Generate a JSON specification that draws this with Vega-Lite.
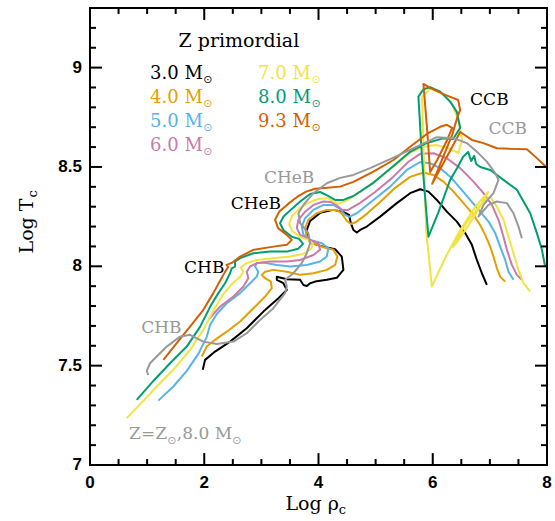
{
"$schema": "https://vega.github.io/schema/vega-lite/v6.json",
"width": 457, "height": 457,
"autosize": {"type": "none"},
"padding": {"left": 90, "top": 8, "right": 8, "bottom": 56},
"background": "white",
"config": {
 "view": {"stroke": "black", "strokeWidth": 2}
},
"datasets": {
"xmaj": [{"v":0},{"v":2},{"v":4},{"v":6},{"v":8}],
"xmin": [{"v":0.5},{"v":1},{"v":1.5},{"v":2.5},{"v":3},{"v":3.5},{"v":4.5},{"v":5},{"v":5.5},{"v":6.5},{"v":7},{"v":7.5}],
"ymaj": [{"v":7},{"v":7.5},{"v":8},{"v":8.5},{"v":9}],
"ymin": [{"v":7.1},{"v":7.2},{"v":7.3},{"v":7.4},{"v":7.6},{"v":7.7},{"v":7.8},{"v":7.9},{"v":8.1},{"v":8.2},{"v":8.3},{"v":8.4},{"v":8.6},{"v":8.7},{"v":8.8},{"v":8.9},{"v":9.1},{"v":9.2}],
"curves": [
{"s":"3.0","i":0,"x":1.974,"y":7.479},{"s":"3.0","i":1,"x":2.014,"y":7.529},{"s":"3.0","i":2,"x":2.189,"y":7.571},{"s":"3.0","i":3,"x":2.452,"y":7.621},{"s":"3.0","i":4,"x":2.744,"y":7.688},{"s":"3.0","i":5,"x":3.035,"y":7.772},{"s":"3.0","i":6,"x":3.298,"y":7.839},{"s":"3.0","i":7,"x":3.445,"y":7.881},{"s":"3.0","i":8,"x":3.385,"y":7.915},{"s":"3.0","i":9,"x":3.27,"y":7.932},{"s":"3.0","i":10,"x":3.27,"y":7.947},{"s":"3.0","i":11,"x":3.445,"y":7.935},{"s":"3.0","i":12,"x":3.678,"y":7.932},{"s":"3.0","i":13,"x":3.736,"y":7.906},{"s":"3.0","i":14,"x":3.795,"y":7.901},{"s":"3.0","i":15,"x":3.853,"y":7.915},{"s":"3.0","i":16,"x":3.94,"y":7.923},{"s":"3.0","i":17,"x":4.145,"y":7.932},{"s":"3.0","i":18,"x":4.32,"y":7.942},{"s":"3.0","i":19,"x":4.436,"y":7.982},{"s":"3.0","i":20,"x":4.408,"y":8.049},{"s":"3.0","i":21,"x":4.291,"y":8.086},{"s":"3.0","i":22,"x":4.086,"y":8.099},{"s":"3.0","i":23,"x":3.853,"y":8.118},{"s":"3.0","i":24,"x":3.783,"y":8.173},{"s":"3.0","i":25,"x":3.853,"y":8.228},{"s":"3.0","i":26,"x":4.028,"y":8.269},{"s":"3.0","i":27,"x":4.256,"y":8.284},{"s":"3.0","i":28,"x":4.431,"y":8.274},{"s":"3.0","i":29,"x":4.536,"y":8.259},{"s":"3.0","i":30,"x":4.566,"y":8.217},{"s":"3.0","i":31,"x":4.611,"y":8.183},{"s":"3.0","i":32,"x":4.671,"y":8.17},{"s":"3.0","i":33,"x":4.729,"y":8.183},{"s":"3.0","i":34,"x":4.846,"y":8.2},{"s":"3.0","i":35,"x":5.079,"y":8.25},{"s":"3.0","i":36,"x":5.371,"y":8.318},{"s":"3.0","i":37,"x":5.604,"y":8.368},{"s":"3.0","i":38,"x":5.779,"y":8.388},{"s":"3.0","i":39,"x":5.925,"y":8.376},{"s":"3.0","i":40,"x":6.072,"y":8.334},{"s":"3.0","i":41,"x":6.247,"y":8.275},{"s":"3.0","i":42,"x":6.422,"y":8.225},{"s":"3.0","i":43,"x":6.567,"y":8.167},{"s":"3.0","i":44,"x":6.685,"y":8.108},{"s":"3.0","i":45,"x":6.772,"y":8.032},{"s":"3.0","i":46,"x":6.86,"y":7.965},{"s":"3.0","i":47,"x":6.947,"y":7.906},
{"s":"4.0","i":0,"x":1.956,"y":7.546},{"s":"4.0","i":1,"x":2.044,"y":7.596},{"s":"4.0","i":2,"x":2.189,"y":7.63},{"s":"4.0","i":3,"x":2.394,"y":7.671},{"s":"4.0","i":4,"x":2.627,"y":7.722},{"s":"4.0","i":5,"x":2.86,"y":7.789},{"s":"4.0","i":6,"x":3.065,"y":7.848},{"s":"4.0","i":7,"x":3.182,"y":7.89},{"s":"4.0","i":8,"x":3.165,"y":7.923},{"s":"4.0","i":9,"x":3.065,"y":7.94},{"s":"4.0","i":10,"x":3.007,"y":7.957},{"s":"4.0","i":11,"x":3.065,"y":7.973},{"s":"4.0","i":12,"x":3.21,"y":7.982},{"s":"4.0","i":13,"x":3.445,"y":7.973},{"s":"4.0","i":14,"x":3.678,"y":7.957},{"s":"4.0","i":15,"x":3.911,"y":7.965},{"s":"4.0","i":16,"x":4.145,"y":7.982},{"s":"4.0","i":17,"x":4.291,"y":8.007},{"s":"4.0","i":18,"x":4.331,"y":8.049},{"s":"4.0","i":19,"x":4.261,"y":8.083},{"s":"4.0","i":20,"x":4.086,"y":8.096},{"s":"4.0","i":21,"x":3.911,"y":8.116},{"s":"4.0","i":22,"x":3.795,"y":8.149},{"s":"4.0","i":23,"x":3.765,"y":8.192},{"s":"4.0","i":24,"x":3.823,"y":8.234},{"s":"4.0","i":25,"x":3.97,"y":8.267},{"s":"4.0","i":26,"x":4.145,"y":8.284},{"s":"4.0","i":27,"x":4.32,"y":8.284},{"s":"4.0","i":28,"x":4.413,"y":8.264},{"s":"4.0","i":29,"x":4.496,"y":8.228},{"s":"4.0","i":30,"x":4.571,"y":8.213},{"s":"4.0","i":31,"x":4.658,"y":8.223},{"s":"4.0","i":32,"x":4.846,"y":8.264},{"s":"4.0","i":33,"x":5.079,"y":8.324},{"s":"4.0","i":34,"x":5.342,"y":8.395},{"s":"4.0","i":35,"x":5.604,"y":8.45},{"s":"4.0","i":36,"x":5.837,"y":8.472},{"s":"4.0","i":37,"x":6.012,"y":8.46},{"s":"4.0","i":38,"x":6.187,"y":8.426},{"s":"4.0","i":39,"x":6.363,"y":8.376},{"s":"4.0","i":40,"x":6.538,"y":8.318},{"s":"4.0","i":41,"x":6.713,"y":8.259},{"s":"4.0","i":42,"x":6.83,"y":8.208},{"s":"4.0","i":43,"x":6.918,"y":8.158},{"s":"4.0","i":44,"x":7.005,"y":8.099},{"s":"4.0","i":45,"x":7.063,"y":8.049},{"s":"4.0","i":46,"x":7.123,"y":7.99},{"s":"4.0","i":47,"x":7.18,"y":7.948},{"s":"4.0","i":48,"x":7.268,"y":7.923},
{"s":"5.0","i":0,"x":1.196,"y":7.324},{"s":"5.0","i":1,"x":1.459,"y":7.395},{"s":"5.0","i":2,"x":1.694,"y":7.474},{"s":"5.0","i":3,"x":1.897,"y":7.559},{"s":"5.0","i":4,"x":2.044,"y":7.645},{"s":"5.0","i":5,"x":2.102,"y":7.705},{"s":"5.0","i":6,"x":2.219,"y":7.76},{"s":"5.0","i":7,"x":2.394,"y":7.814},{"s":"5.0","i":8,"x":2.627,"y":7.865},{"s":"5.0","i":9,"x":2.802,"y":7.915},{"s":"5.0","i":10,"x":2.919,"y":7.948},{"s":"5.0","i":11,"x":2.947,"y":7.973},{"s":"5.0","i":12,"x":2.89,"y":7.999},{"s":"5.0","i":13,"x":2.919,"y":8.016},{"s":"5.0","i":14,"x":3.035,"y":8.019},{"s":"5.0","i":15,"x":3.27,"y":8.007},{"s":"5.0","i":16,"x":3.503,"y":7.999},{"s":"5.0","i":17,"x":3.795,"y":8.007},{"s":"5.0","i":18,"x":4.028,"y":8.024},{"s":"5.0","i":19,"x":4.145,"y":8.049},{"s":"5.0","i":20,"x":4.173,"y":8.091},{"s":"5.0","i":21,"x":4.058,"y":8.116},{"s":"5.0","i":22,"x":3.853,"y":8.133},{"s":"5.0","i":23,"x":3.736,"y":8.158},{"s":"5.0","i":24,"x":3.708,"y":8.2},{"s":"5.0","i":25,"x":3.765,"y":8.242},{"s":"5.0","i":26,"x":3.911,"y":8.284},{"s":"5.0","i":27,"x":4.086,"y":8.309},{"s":"5.0","i":28,"x":4.261,"y":8.309},{"s":"5.0","i":29,"x":4.378,"y":8.289},{"s":"5.0","i":30,"x":4.466,"y":8.259},{"s":"5.0","i":31,"x":4.536,"y":8.249},{"s":"5.0","i":32,"x":4.671,"y":8.267},{"s":"5.0","i":33,"x":4.961,"y":8.334},{"s":"5.0","i":34,"x":5.254,"y":8.401},{"s":"5.0","i":35,"x":5.546,"y":8.485},{"s":"5.0","i":36,"x":5.779,"y":8.525},{"s":"5.0","i":37,"x":5.954,"y":8.519},{"s":"5.0","i":38,"x":6.13,"y":8.494},{"s":"5.0","i":39,"x":6.305,"y":8.451},{"s":"5.0","i":40,"x":6.48,"y":8.393},{"s":"5.0","i":41,"x":6.655,"y":8.334},{"s":"5.0","i":42,"x":6.83,"y":8.275},{"s":"5.0","i":43,"x":6.976,"y":8.225},{"s":"5.0","i":44,"x":7.093,"y":8.167},{"s":"5.0","i":45,"x":7.18,"y":8.099},{"s":"5.0","i":46,"x":7.268,"y":8.032},{"s":"5.0","i":47,"x":7.326,"y":7.973},{"s":"5.0","i":48,"x":7.413,"y":7.932},
{"s":"6.0","i":0,"x":2.084,"y":7.735},{"s":"6.0","i":1,"x":2.277,"y":7.797},{"s":"6.0","i":2,"x":2.51,"y":7.848},{"s":"6.0","i":3,"x":2.685,"y":7.898},{"s":"6.0","i":4,"x":2.772,"y":7.94},{"s":"6.0","i":5,"x":2.744,"y":7.973},{"s":"6.0","i":6,"x":2.802,"y":7.999},{"s":"6.0","i":7,"x":2.919,"y":8.016},{"s":"6.0","i":8,"x":3.152,"y":8.024},{"s":"6.0","i":9,"x":3.445,"y":8.024},{"s":"6.0","i":10,"x":3.678,"y":8.032},{"s":"6.0","i":11,"x":3.911,"y":8.057},{"s":"6.0","i":12,"x":4.028,"y":8.083},{"s":"6.0","i":13,"x":3.998,"y":8.116},{"s":"6.0","i":14,"x":3.853,"y":8.133},{"s":"6.0","i":15,"x":3.678,"y":8.158},{"s":"6.0","i":16,"x":3.62,"y":8.192},{"s":"6.0","i":17,"x":3.648,"y":8.234},{"s":"6.0","i":18,"x":3.765,"y":8.275},{"s":"6.0","i":19,"x":3.911,"y":8.309},{"s":"6.0","i":20,"x":4.086,"y":8.326},{"s":"6.0","i":21,"x":4.221,"y":8.324},{"s":"6.0","i":22,"x":4.326,"y":8.304},{"s":"6.0","i":23,"x":4.413,"y":8.284},{"s":"6.0","i":24,"x":4.518,"y":8.284},{"s":"6.0","i":25,"x":4.729,"y":8.319},{"s":"6.0","i":26,"x":4.991,"y":8.374},{"s":"6.0","i":27,"x":5.289,"y":8.445},{"s":"6.0","i":28,"x":5.569,"y":8.525},{"s":"6.0","i":29,"x":5.779,"y":8.566},{"s":"6.0","i":30,"x":6.012,"y":8.569},{"s":"6.0","i":31,"x":6.247,"y":8.544},{"s":"6.0","i":32,"x":6.48,"y":8.494},{"s":"6.0","i":33,"x":6.713,"y":8.426},{"s":"6.0","i":34,"x":6.888,"y":8.368},{"s":"6.0","i":35,"x":7.035,"y":8.309},{"s":"6.0","i":36,"x":7.151,"y":8.234},{"s":"6.0","i":37,"x":7.238,"y":8.149},{"s":"6.0","i":38,"x":7.298,"y":8.083},{"s":"6.0","i":39,"x":7.385,"y":8.007},{"s":"6.0","i":40,"x":7.473,"y":7.957},{"s":"6.0","i":41,"x":7.56,"y":7.932},
{"s":"7.0","i":0,"x":0.643,"y":7.236},{"s":"7.0","i":1,"x":0.933,"y":7.323},{"s":"7.0","i":2,"x":1.168,"y":7.395},{"s":"7.0","i":3,"x":1.459,"y":7.479},{"s":"7.0","i":4,"x":1.751,"y":7.579},{"s":"7.0","i":5,"x":1.984,"y":7.68},{"s":"7.0","i":6,"x":2.159,"y":7.776},{"s":"7.0","i":7,"x":2.312,"y":7.851},{"s":"7.0","i":8,"x":2.482,"y":7.911},{"s":"7.0","i":9,"x":2.627,"y":7.947},{"s":"7.0","i":10,"x":2.685,"y":7.972},{"s":"7.0","i":11,"x":2.636,"y":7.994},{"s":"7.0","i":12,"x":2.744,"y":8.016},{"s":"7.0","i":13,"x":2.919,"y":8.032},{"s":"7.0","i":14,"x":3.21,"y":8.041},{"s":"7.0","i":15,"x":3.503,"y":8.049},{"s":"7.0","i":16,"x":3.73,"y":8.062},{"s":"7.0","i":17,"x":3.87,"y":8.088},{"s":"7.0","i":18,"x":3.905,"y":8.113},{"s":"7.0","i":19,"x":3.818,"y":8.133},{"s":"7.0","i":20,"x":3.678,"y":8.148},{"s":"7.0","i":21,"x":3.538,"y":8.178},{"s":"7.0","i":22,"x":3.485,"y":8.213},{"s":"7.0","i":23,"x":3.538,"y":8.254},{"s":"7.0","i":24,"x":3.66,"y":8.289},{"s":"7.0","i":25,"x":3.818,"y":8.319},{"s":"7.0","i":26,"x":3.993,"y":8.339},{"s":"7.0","i":27,"x":4.168,"y":8.342},{"s":"7.0","i":28,"x":4.273,"y":8.324},{"s":"7.0","i":29,"x":4.343,"y":8.314},{"s":"7.0","i":30,"x":4.483,"y":8.329},{"s":"7.0","i":31,"x":4.729,"y":8.374},{"s":"7.0","i":32,"x":5.044,"y":8.44},{"s":"7.0","i":33,"x":5.342,"y":8.51},{"s":"7.0","i":34,"x":5.604,"y":8.571},{"s":"7.0","i":35,"x":5.814,"y":8.601},{"s":"7.0","i":36,"x":6.042,"y":8.611},{"s":"7.0","i":37,"x":6.27,"y":8.596},{"s":"7.0","i":38,"x":6.445,"y":8.571},{"s":"7.0","i":39,"x":6.515,"y":8.636},{"s":"7.0","i":40,"x":6.445,"y":8.737},{"s":"7.0","i":41,"x":6.34,"y":8.817},{"s":"7.0","i":42,"x":6.182,"y":8.868},{"s":"7.0","i":43,"x":5.954,"y":8.893},{"s":"7.0","i":44,"x":5.814,"y":8.853},{"s":"7.0","i":45,"x":5.849,"y":8.485},{"s":"7.0","i":46,"x":5.884,"y":8.183},{"s":"7.0","i":47,"x":5.984,"y":7.898},{"s":"7.0","i":48,"x":6.217,"y":8.042},{"s":"7.0","i":49,"x":6.48,"y":8.183},{"s":"7.0","i":50,"x":6.743,"y":8.299},{"s":"7.0","i":51,"x":6.97,"y":8.374},{"s":"7.0","i":52,"x":6.743,"y":8.259},{"s":"7.0","i":53,"x":6.515,"y":8.158},{"s":"7.0","i":54,"x":6.357,"y":8.098},{"s":"7.0","i":55,"x":6.567,"y":8.208},{"s":"7.0","i":56,"x":6.83,"y":8.309},{"s":"7.0","i":57,"x":7.005,"y":8.351},{"s":"7.0","i":58,"x":7.123,"y":8.3},{"s":"7.0","i":59,"x":7.238,"y":8.234},{"s":"7.0","i":60,"x":7.326,"y":8.149},{"s":"7.0","i":61,"x":7.413,"y":8.066},{"s":"7.0","i":62,"x":7.501,"y":7.982},{"s":"7.0","i":63,"x":7.588,"y":7.915},{"s":"7.0","i":64,"x":7.706,"y":7.873},
{"s":"8.0","i":0,"x":0.818,"y":7.328},{"s":"8.0","i":1,"x":1.109,"y":7.423},{"s":"8.0","i":2,"x":1.401,"y":7.512},{"s":"8.0","i":3,"x":1.694,"y":7.596},{"s":"8.0","i":4,"x":1.926,"y":7.695},{"s":"8.0","i":5,"x":2.102,"y":7.796},{"s":"8.0","i":6,"x":2.247,"y":7.865},{"s":"8.0","i":7,"x":2.364,"y":7.915},{"s":"8.0","i":8,"x":2.452,"y":7.965},{"s":"8.0","i":9,"x":2.482,"y":7.99},{"s":"8.0","i":10,"x":2.539,"y":7.999},{"s":"8.0","i":11,"x":2.539,"y":8.024},{"s":"8.0","i":12,"x":2.627,"y":8.041},{"s":"8.0","i":13,"x":2.86,"y":8.066},{"s":"8.0","i":14,"x":3.152,"y":8.074},{"s":"8.0","i":15,"x":3.445,"y":8.074},{"s":"8.0","i":16,"x":3.643,"y":8.088},{"s":"8.0","i":17,"x":3.73,"y":8.113},{"s":"8.0","i":18,"x":3.66,"y":8.138},{"s":"8.0","i":19,"x":3.532,"y":8.149},{"s":"8.0","i":20,"x":3.385,"y":8.183},{"s":"8.0","i":21,"x":3.327,"y":8.217},{"s":"8.0","i":22,"x":3.385,"y":8.249},{"s":"8.0","i":23,"x":3.532,"y":8.289},{"s":"8.0","i":24,"x":3.678,"y":8.326},{"s":"8.0","i":25,"x":3.853,"y":8.364},{"s":"8.0","i":26,"x":4.028,"y":8.374},{"s":"8.0","i":27,"x":4.168,"y":8.354},{"s":"8.0","i":28,"x":4.291,"y":8.334},{"s":"8.0","i":29,"x":4.436,"y":8.334},{"s":"8.0","i":30,"x":4.611,"y":8.354},{"s":"8.0","i":31,"x":4.961,"y":8.42},{"s":"8.0","i":32,"x":5.312,"y":8.505},{"s":"8.0","i":33,"x":5.604,"y":8.576},{"s":"8.0","i":34,"x":5.896,"y":8.621},{"s":"8.0","i":35,"x":6.182,"y":8.644},{"s":"8.0","i":36,"x":6.357,"y":8.641},{"s":"8.0","i":37,"x":6.48,"y":8.697},{"s":"8.0","i":38,"x":6.422,"y":8.777},{"s":"8.0","i":39,"x":6.305,"y":8.829},{"s":"8.0","i":40,"x":6.13,"y":8.879},{"s":"8.0","i":41,"x":5.954,"y":8.901},{"s":"8.0","i":42,"x":5.837,"y":8.891},{"s":"8.0","i":43,"x":5.749,"y":8.854},{"s":"8.0","i":44,"x":5.814,"y":8.535},{"s":"8.0","i":45,"x":5.884,"y":8.284},{"s":"8.0","i":46,"x":5.925,"y":8.149},{"s":"8.0","i":47,"x":6.095,"y":8.269},{"s":"8.0","i":48,"x":6.305,"y":8.435},{"s":"8.0","i":49,"x":6.427,"y":8.495},{"s":"8.0","i":50,"x":6.532,"y":8.551},{"s":"8.0","i":51,"x":6.62,"y":8.576},{"s":"8.0","i":52,"x":6.673,"y":8.53},{"s":"8.0","i":53,"x":6.725,"y":8.556},{"s":"8.0","i":54,"x":6.76,"y":8.515},{"s":"8.0","i":55,"x":6.83,"y":8.5},{"s":"8.0","i":56,"x":7.005,"y":8.485},{"s":"8.0","i":57,"x":7.238,"y":8.435},{"s":"8.0","i":58,"x":7.473,"y":8.385},{"s":"8.0","i":59,"x":7.706,"y":8.267},{"s":"8.0","i":60,"x":7.823,"y":8.167},{"s":"8.0","i":61,"x":7.911,"y":8.083},{"s":"8.0","i":62,"x":7.968,"y":7.999},
{"s":"9.3","i":0,"x":1.284,"y":7.529},{"s":"9.3","i":1,"x":1.518,"y":7.613},{"s":"9.3","i":2,"x":1.751,"y":7.697},{"s":"9.3","i":3,"x":1.984,"y":7.781},{"s":"9.3","i":4,"x":2.159,"y":7.865},{"s":"9.3","i":5,"x":2.277,"y":7.927},{"s":"9.3","i":6,"x":2.364,"y":7.972},{"s":"9.3","i":7,"x":2.417,"y":7.997},{"s":"9.3","i":8,"x":2.391,"y":8.007},{"s":"9.3","i":9,"x":2.482,"y":8.017},{"s":"9.3","i":10,"x":2.627,"y":8.049},{"s":"9.3","i":11,"x":2.86,"y":8.083},{"s":"9.3","i":12,"x":3.21,"y":8.099},{"s":"9.3","i":13,"x":3.445,"y":8.108},{"s":"9.3","i":14,"x":3.532,"y":8.133},{"s":"9.3","i":15,"x":3.445,"y":8.158},{"s":"9.3","i":16,"x":3.292,"y":8.192},{"s":"9.3","i":17,"x":3.24,"y":8.234},{"s":"9.3","i":18,"x":3.31,"y":8.274},{"s":"9.3","i":19,"x":3.468,"y":8.314},{"s":"9.3","i":20,"x":3.625,"y":8.349},{"s":"9.3","i":21,"x":3.783,"y":8.376},{"s":"9.3","i":22,"x":3.94,"y":8.39},{"s":"9.3","i":23,"x":4.151,"y":8.395},{"s":"9.3","i":24,"x":4.378,"y":8.401},{"s":"9.3","i":25,"x":4.611,"y":8.425},{"s":"9.3","i":26,"x":4.961,"y":8.477},{"s":"9.3","i":27,"x":5.312,"y":8.535},{"s":"9.3","i":28,"x":5.604,"y":8.602},{"s":"9.3","i":29,"x":5.897,"y":8.666},{"s":"9.3","i":30,"x":6.13,"y":8.702},{"s":"9.3","i":31,"x":6.247,"y":8.712},{"s":"9.3","i":32,"x":6.34,"y":8.697},{"s":"9.3","i":33,"x":6.252,"y":8.636},{"s":"9.3","i":34,"x":6.077,"y":8.535},{"s":"9.3","i":35,"x":5.954,"y":8.475},{"s":"9.3","i":36,"x":5.902,"y":8.686},{"s":"9.3","i":37,"x":5.837,"y":8.918},{"s":"9.3","i":38,"x":5.954,"y":8.898},{"s":"9.3","i":39,"x":6.217,"y":8.863},{"s":"9.3","i":40,"x":6.445,"y":8.837},{"s":"9.3","i":41,"x":6.48,"y":8.787},{"s":"9.3","i":42,"x":6.427,"y":8.747},{"s":"9.3","i":43,"x":6.34,"y":8.661},{"s":"9.3","i":44,"x":6.182,"y":8.551},{"s":"9.3","i":45,"x":5.989,"y":8.415},{"s":"9.3","i":46,"x":6.217,"y":8.535},{"s":"9.3","i":47,"x":6.48,"y":8.676},{"s":"9.3","i":48,"x":6.685,"y":8.636},{"s":"9.3","i":49,"x":6.888,"y":8.62},{"s":"9.3","i":50,"x":7.123,"y":8.594},{"s":"9.3","i":51,"x":7.355,"y":8.591},{"s":"9.3","i":52,"x":7.648,"y":8.589},{"s":"9.3","i":53,"x":7.793,"y":8.552},{"s":"9.3","i":54,"x":7.986,"y":8.5},
{"s":"Zsun","i":0,"x":1.021,"y":7.453},{"s":"Zsun","i":1,"x":0.993,"y":7.474},{"s":"Zsun","i":2,"x":1.051,"y":7.512},{"s":"Zsun","i":3,"x":1.168,"y":7.546},{"s":"Zsun","i":4,"x":1.343,"y":7.596},{"s":"Zsun","i":5,"x":1.576,"y":7.646},{"s":"Zsun","i":6,"x":1.751,"y":7.655},{"s":"Zsun","i":7,"x":1.984,"y":7.621},{"s":"Zsun","i":8,"x":2.219,"y":7.609},{"s":"Zsun","i":9,"x":2.51,"y":7.621},{"s":"Zsun","i":10,"x":2.744,"y":7.663},{"s":"Zsun","i":11,"x":2.977,"y":7.73},{"s":"Zsun","i":12,"x":3.21,"y":7.789},{"s":"Zsun","i":13,"x":3.415,"y":7.865},{"s":"Zsun","i":14,"x":3.445,"y":7.898},{"s":"Zsun","i":15,"x":3.415,"y":7.932},{"s":"Zsun","i":16,"x":3.56,"y":7.965},{"s":"Zsun","i":17,"x":3.708,"y":8.016},{"s":"Zsun","i":18,"x":3.795,"y":8.066},{"s":"Zsun","i":19,"x":3.853,"y":8.116},{"s":"Zsun","i":20,"x":3.823,"y":8.167},{"s":"Zsun","i":21,"x":3.678,"y":8.217},{"s":"Zsun","i":22,"x":3.648,"y":8.267},{"s":"Zsun","i":23,"x":3.736,"y":8.309},{"s":"Zsun","i":24,"x":3.911,"y":8.368},{"s":"Zsun","i":25,"x":4.145,"y":8.418},{"s":"Zsun","i":26,"x":4.378,"y":8.445},{"s":"Zsun","i":27,"x":4.611,"y":8.46},{"s":"Zsun","i":28,"x":4.904,"y":8.494},{"s":"Zsun","i":29,"x":5.254,"y":8.539},{"s":"Zsun","i":30,"x":5.722,"y":8.602},{"s":"Zsun","i":31,"x":6.072,"y":8.65},{"s":"Zsun","i":32,"x":6.363,"y":8.645},{"s":"Zsun","i":33,"x":6.597,"y":8.62},{"s":"Zsun","i":34,"x":6.772,"y":8.577},{"s":"Zsun","i":35,"x":6.947,"y":8.527},{"s":"Zsun","i":36,"x":7.093,"y":8.469},{"s":"Zsun","i":37,"x":7.151,"y":8.435},{"s":"Zsun","i":38,"x":7.063,"y":8.368},{"s":"Zsun","i":39,"x":6.888,"y":8.309},{"s":"Zsun","i":40,"x":6.8,"y":8.25},{"s":"Zsun","i":41,"x":6.976,"y":8.309},{"s":"Zsun","i":42,"x":7.123,"y":8.326},{"s":"Zsun","i":43,"x":7.298,"y":8.318},{"s":"Zsun","i":44,"x":7.413,"y":8.267},{"s":"Zsun","i":45,"x":7.501,"y":8.2},{"s":"Zsun","i":46,"x":7.56,"y":8.141}
],
"legend": [
{"t":"3.0 M","s":"3.0","x":1.051,"y":8.941},{"t":"4.0 M","s":"4.0","x":1.051,"y":8.821},{"t":"5.0 M","s":"5.0","x":1.051,"y":8.702},{"t":"6.0 M","s":"6.0","x":1.051,"y":8.582},
{"t":"7.0 M","s":"7.0","x":2.942,"y":8.941},{"t":"8.0 M","s":"8.0","x":2.942,"y":8.821},{"t":"9.3 M","s":"9.3","x":2.942,"y":8.702}
],
"subs": [
{"t":"⊙","s":"3.0","x":2.065,"y":8.936},{"t":"⊙","s":"4.0","x":2.065,"y":8.815},{"t":"⊙","s":"5.0","x":2.065,"y":8.697},{"t":"⊙","s":"6.0","x":2.065,"y":8.577},
{"t":"⊙","s":"7.0","x":3.958,"y":8.936},{"t":"⊙","s":"8.0","x":3.958,"y":8.815},{"t":"⊙","s":"9.3","x":3.958,"y":8.697},
{"t":"⊙","s":"Zsun","x":1.433,"y":7.121},{"t":"⊙","s":"Zsun","x":2.571,"y":7.121}
]
},
"layer": [
{
 "data": {"name": "curves"},
 "mark": {"type": "line", "strokeWidth": 2, "strokeJoin": "round"},
 "encoding": {
  "x": {"field": "x", "type": "quantitative", "scale": {"domain": [0, 8], "nice": false, "zero": false}, "axis": null},
  "y": {"field": "y", "type": "quantitative", "scale": {"domain": [7, 9.3], "nice": false, "zero": false}, "axis": null},
  "color": {"field": "s", "type": "nominal", "legend": null,
   "scale": {"domain": ["3.0","4.0","5.0","6.0","7.0","8.0","9.3","Zsun"], "range": ["#000000","#E69F00","#56B4E9","#CC79A7","#F0E442","#009E73","#D55E00","#999999"]}},
  "order": {"field": "i", "type": "quantitative"}
 }
},
{
 "data": {"name": "xmaj"},
 "mark": {"type": "rule", "strokeWidth": 2, "color": "black"},
 "encoding": {
  "x": {"field": "v", "type": "quantitative", "scale": {"domain": [0, 8], "nice": false, "zero": false}, "axis": null},
  "y": {"datum": 7, "type": "quantitative", "scale": {"domain": [7, 9.3], "nice": false, "zero": false}, "axis": null},
  "y2": {"datum": 7.06}
 }
},
{
 "data": {"name": "xmaj"},
 "mark": {"type": "rule", "strokeWidth": 2, "color": "black"},
 "encoding": {
  "x": {"field": "v", "type": "quantitative", "scale": {"domain": [0, 8], "nice": false, "zero": false}, "axis": null},
  "y": {"datum": 9.3, "type": "quantitative", "scale": {"domain": [7, 9.3], "nice": false, "zero": false}, "axis": null},
  "y2": {"datum": 9.24}
 }
},
{
 "data": {"name": "xmin"},
 "mark": {"type": "rule", "strokeWidth": 2, "color": "black"},
 "encoding": {
  "x": {"field": "v", "type": "quantitative", "scale": {"domain": [0, 8], "nice": false, "zero": false}, "axis": null},
  "y": {"datum": 7, "type": "quantitative", "scale": {"domain": [7, 9.3], "nice": false, "zero": false}, "axis": null},
  "y2": {"datum": 7.03}
 }
},
{
 "data": {"name": "xmin"},
 "mark": {"type": "rule", "strokeWidth": 2, "color": "black"},
 "encoding": {
  "x": {"field": "v", "type": "quantitative", "scale": {"domain": [0, 8], "nice": false, "zero": false}, "axis": null},
  "y": {"datum": 9.3, "type": "quantitative", "scale": {"domain": [7, 9.3], "nice": false, "zero": false}, "axis": null},
  "y2": {"datum": 9.27}
 }
},
{
 "data": {"name": "ymaj"},
 "mark": {"type": "rule", "strokeWidth": 2, "color": "black"},
 "encoding": {
  "y": {"field": "v", "type": "quantitative", "scale": {"domain": [7, 9.3], "nice": false, "zero": false}, "axis": null},
  "x": {"datum": 0, "type": "quantitative", "scale": {"domain": [0, 8], "nice": false, "zero": false}, "axis": null},
  "x2": {"datum": 0.21}
 }
},
{
 "data": {"name": "ymaj"},
 "mark": {"type": "rule", "strokeWidth": 2, "color": "black"},
 "encoding": {
  "y": {"field": "v", "type": "quantitative", "scale": {"domain": [7, 9.3], "nice": false, "zero": false}, "axis": null},
  "x": {"datum": 8, "type": "quantitative", "scale": {"domain": [0, 8], "nice": false, "zero": false}, "axis": null},
  "x2": {"datum": 7.79}
 }
},
{
 "data": {"name": "ymin"},
 "mark": {"type": "rule", "strokeWidth": 2, "color": "black"},
 "encoding": {
  "y": {"field": "v", "type": "quantitative", "scale": {"domain": [7, 9.3], "nice": false, "zero": false}, "axis": null},
  "x": {"datum": 0, "type": "quantitative", "scale": {"domain": [0, 8], "nice": false, "zero": false}, "axis": null},
  "x2": {"datum": 0.105}
 }
},
{
 "data": {"name": "ymin"},
 "mark": {"type": "rule", "strokeWidth": 2, "color": "black"},
 "encoding": {
  "y": {"field": "v", "type": "quantitative", "scale": {"domain": [7, 9.3], "nice": false, "zero": false}, "axis": null},
  "x": {"datum": 8, "type": "quantitative", "scale": {"domain": [0, 8], "nice": false, "zero": false}, "axis": null},
  "x2": {"datum": 7.895}
 }
},
{
 "data": {"name": "xmaj"},
 "mark": {"type": "text", "font": "Liberation Sans", "fontSize": 17, "fontWeight": "bold", "align": "center", "baseline": "top", "dy": 10, "color": "black"},
 "encoding": {
  "x": {"field": "v", "type": "quantitative", "scale": {"domain": [0, 8], "nice": false, "zero": false}, "axis": null},
  "y": {"datum": 7, "type": "quantitative", "scale": {"domain": [7, 9.3], "nice": false, "zero": false}, "axis": null},
  "text": {"field": "v", "type": "quantitative", "format": "~g"}
 }
},
{
 "data": {"name": "ymaj"},
 "mark": {"type": "text", "font": "Liberation Sans", "fontSize": 17, "fontWeight": "bold", "align": "right", "baseline": "middle", "dx": -8, "color": "black"},
 "encoding": {
  "y": {"field": "v", "type": "quantitative", "scale": {"domain": [7, 9.3], "nice": false, "zero": false}, "axis": null},
  "x": {"datum": 0, "type": "quantitative", "scale": {"domain": [0, 8], "nice": false, "zero": false}, "axis": null},
  "text": {"field": "v", "type": "quantitative", "format": "~g"}
 }
},
{
 "data": {"values": [{"t":"Log  ρ","x":3.888,"y":6.774}]},
 "mark": {"type": "text", "font": "DejaVu Serif", "fontSize": 19, "align": "center", "baseline": "alphabetic", "color": "black"},
 "encoding": {
  "x": {"field": "x", "type": "quantitative", "scale": {"domain": [0, 8], "nice": false, "zero": false}, "axis": null},
  "y": {"field": "y", "type": "quantitative", "scale": {"domain": [7, 9.3], "nice": false, "zero": false}, "axis": null},
  "text": {"field": "t"}
 }
},
{
 "data": {"values": [{"t":"Log T","x":-0.998,"y":8.203}]},
 "mark": {"type": "text", "font": "DejaVu Serif", "fontSize": 19, "align": "center", "baseline": "alphabetic", "angle": 270, "color": "black"},
 "encoding": {
  "x": {"field": "x", "type": "quantitative", "scale": {"domain": [0, 8], "nice": false, "zero": false}, "axis": null},
  "y": {"field": "y", "type": "quantitative", "scale": {"domain": [7, 9.3], "nice": false, "zero": false}, "axis": null},
  "text": {"field": "t"}
 }
},
{
 "data": {"values": [{"t":"CCB","x":6.991,"y":8.812},{"t":"CHeB","x":2.904,"y":8.287},{"t":"CHB","x":2.0,"y":7.965}]},
 "mark": {"type": "text", "font": "DejaVu Serif", "fontSize": 17, "align": "center", "baseline": "alphabetic", "color": "black"},
 "encoding": {
  "x": {"field": "x", "type": "quantitative", "scale": {"domain": [0, 8], "nice": false, "zero": false}, "axis": null},
  "y": {"field": "y", "type": "quantitative", "scale": {"domain": [7, 9.3], "nice": false, "zero": false}, "axis": null},
  "text": {"field": "t"}
 }
},
{
 "data": {"values": [{"t":"CCB","x":7.312,"y":8.666},{"t":"CHeB","x":3.485,"y":8.418},{"t":"CHB","x":1.249,"y":7.663},{"t":"Z=Z","x":1.016,"y":7.13},{"t":",8.0 M","x":2.003,"y":7.13}]},
 "mark": {"type": "text", "font": "DejaVu Serif", "fontSize": 17, "align": "center", "baseline": "alphabetic", "color": "#999999"},
 "encoding": {
  "x": {"field": "x", "type": "quantitative", "scale": {"domain": [0, 8], "nice": false, "zero": false}, "axis": null},
  "y": {"field": "y", "type": "quantitative", "scale": {"domain": [7, 9.3], "nice": false, "zero": false}, "axis": null},
  "text": {"field": "t"}
 }
},
{
 "data": {"values": [{"t":"Z primordial","x":2.606,"y":9.106}]},
 "mark": {"type": "text", "font": "DejaVu Serif", "fontSize": 19, "align": "center", "baseline": "alphabetic", "color": "black"},
 "encoding": {
  "x": {"field": "x", "type": "quantitative", "scale": {"domain": [0, 8], "nice": false, "zero": false}, "axis": null},
  "y": {"field": "y", "type": "quantitative", "scale": {"domain": [7, 9.3], "nice": false, "zero": false}, "axis": null},
  "text": {"field": "t"}
 }
},
{
 "data": {"name": "legend"},
 "mark": {"type": "text", "font": "DejaVu Serif", "fontSize": 18, "align": "left", "baseline": "alphabetic"},
 "encoding": {
  "x": {"field": "x", "type": "quantitative", "scale": {"domain": [0, 8], "nice": false, "zero": false}, "axis": null},
  "y": {"field": "y", "type": "quantitative", "scale": {"domain": [7, 9.3], "nice": false, "zero": false}, "axis": null},
  "color": {"field": "s", "type": "nominal", "legend": null},
  "text": {"field": "t"}
 }
},
{
 "data": {"name": "subs"},
 "mark": {"type": "text", "font": "DejaVu Sans", "fontSize": 11, "align": "center", "baseline": "middle"},
 "encoding": {
  "x": {"field": "x", "type": "quantitative", "scale": {"domain": [0, 8], "nice": false, "zero": false}, "axis": null},
  "y": {"field": "y", "type": "quantitative", "scale": {"domain": [7, 9.3], "nice": false, "zero": false}, "axis": null},
  "color": {"field": "s", "type": "nominal", "legend": null},
  "text": {"field": "t"}
 }
},
{
 "data": {"values": [{"t":"c","x":4.42,"y":6.754}]},
 "mark": {"type": "text", "font": "DejaVu Serif", "fontSize": 13, "align": "center", "baseline": "alphabetic", "color": "black"},
 "encoding": {
  "x": {"field": "x", "type": "quantitative", "scale": {"domain": [0, 8], "nice": false, "zero": false}, "axis": null},
  "y": {"field": "y", "type": "quantitative", "scale": {"domain": [7, 9.3], "nice": false, "zero": false}, "axis": null},
  "text": {"field": "t"}
 }
},
{
 "data": {"values": [{"t":"c","x":-0.928,"y":8.364}]},
 "mark": {"type": "text", "font": "DejaVu Serif", "fontSize": 13, "align": "center", "baseline": "alphabetic", "angle": 270, "color": "black"},
 "encoding": {
  "x": {"field": "x", "type": "quantitative", "scale": {"domain": [0, 8], "nice": false, "zero": false}, "axis": null},
  "y": {"field": "y", "type": "quantitative", "scale": {"domain": [7, 9.3], "nice": false, "zero": false}, "axis": null},
  "text": {"field": "t"}
 }
}
]
}
